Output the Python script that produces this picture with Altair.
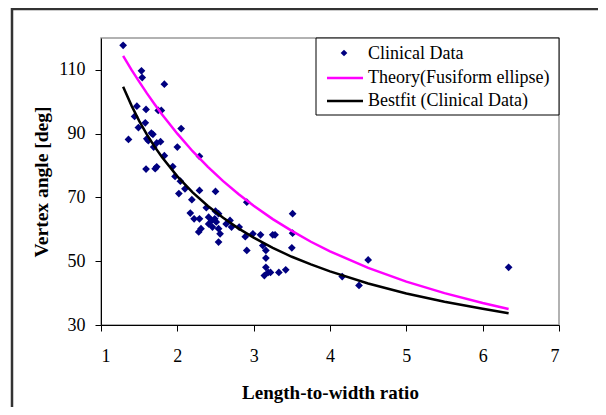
import altair as alt
import pandas as pd

# Clinical data (length-to-width ratio, vertex angle in deg)
clin_x = [1.29, 1.53, 1.54, 1.83, 1.47, 1.59, 1.75, 1.79, 1.44, 1.58, 1.49, 1.66, 1.68, 1.36,
          1.60, 1.62, 1.78, 1.73, 1.69, 2.00, 2.05, 1.83, 2.29, 1.59, 1.71, 1.73, 1.94, 1.97,
          2.04, 2.02, 2.10, 2.29, 2.50, 2.19, 2.91, 2.38, 2.17, 2.50, 2.54, 3.51, 2.22, 2.29,
          2.41, 2.45, 2.49, 2.51, 2.64, 2.69, 2.71, 2.41, 2.46, 2.54, 2.31, 2.28, 2.56, 2.81,
          2.89, 2.99, 3.09, 3.25, 3.28, 3.51, 2.54, 2.91, 3.50, 3.12, 3.16, 3.16, 4.16, 4.50,
          4.38, 6.34, 3.16, 3.19, 3.14, 3.22, 3.33, 3.42]
clin_y = [117.7, 109.7, 107.6, 105.5, 98.6, 97.6, 97.3, 97.3, 95.4, 93.4, 91.9, 90.2, 89.8, 88.2,
          88.4, 87.8, 87.5, 87.1, 85.8, 85.8, 91.6, 83.1, 82.9, 78.9, 79.0, 79.6, 79.7, 76.6,
          75.1, 71.2, 72.7, 72.2, 71.9, 69.3, 68.5, 66.8, 65.1, 65.7, 64.9, 64.9, 63.3, 63.3,
          63.8, 62.8, 63.3, 62.3, 61.7, 62.8, 60.7, 61.7, 60.7, 60.2, 60.2, 59.2, 58.6, 60.7,
          57.7, 58.6, 58.3, 58.3, 58.3, 58.8, 56.0, 53.4, 54.2, 54.9, 53.4, 51.0, 45.2, 50.4,
          42.4, 48.1, 48.1, 46.5, 45.5, 46.5, 46.5, 47.3]

# Curves
curve_x = [1.29, 1.4, 1.5, 1.6, 1.7, 1.8, 2.0, 2.2, 2.4, 2.6, 2.8, 3.0, 3.25, 3.5, 3.75, 4.0,
           4.5, 5.0, 5.5, 6.0, 6.34]
theory_y = [114.4, 110.0, 106.3, 102.7, 99.3, 96.0, 90.0, 84.5, 79.6, 75.1, 71.1, 67.4, 63.2,
            59.5, 56.1, 53.1, 47.9, 43.6, 40.0, 36.9, 35.0]
bestfit_y = [104.7, 98.8, 94.0, 89.8, 86.0, 82.6, 76.6, 71.6, 67.3, 63.6, 60.3, 57.4, 54.2,
             51.4, 49.0, 46.8, 43.0, 39.9, 37.3, 35.1, 33.7]

x_ticks = [1, 2, 3, 4, 5, 6, 7]
y_ticks = [30, 50, 70, 90, 110]
legend_labels = ["Clinical Data", "Theory(Fusiform ellipse)", "Bestfit (Clinical Data)"]

FONT = "Liberation Serif"

clin = pd.DataFrame({"x": clin_x, "y": clin_y})
curves = pd.DataFrame({"x": curve_x, "theory": theory_y, "bestfit": bestfit_y})
one = pd.DataFrame({"a": [0]})

xs = alt.Scale(domain=[1, 7], nice=False, zero=False)
ys = alt.Scale(domain=[30, 120], nice=False, zero=False)

x_axis = alt.Axis(values=x_ticks, format="d", grid=False, title="Length-to-width ratio",
                  labelFont=FONT, labelFontSize=18, labelColor="black", labelPadding=16,
                  tickSize=6, tickColor="black", domainColor="black",
                  titleFont=FONT, titleFontSize=19, titleFontWeight="bold", titleColor="black",
                  titleBaseline="middle", titleY=67, titleX=229)
y_axis = alt.Axis(values=y_ticks, format="d", grid=False, title="Vertex angle [deg]",
                  labelFont=FONT, labelFontSize=18, labelColor="black", labelPadding=10,
                  tickSize=6, tickColor="black", domainColor="black",
                  titleFont=FONT, titleFontSize=19.5, titleFontWeight="bold", titleColor="black",
                  titleAngle=270, titleBaseline="middle", titleX=-60, titleY=143.5)

border_top = alt.Chart(one).mark_rule(color="#333333", strokeWidth=2.5).encode(
    x=alt.value(-89), x2=alt.value(620), y=alt.value(-29))
border_left = alt.Chart(one).mark_rule(color="#333333", strokeWidth=2.5).encode(
    x=alt.value(-89), y=alt.value(-30), y2=alt.value(600))

pts = alt.Chart(clin).mark_point(shape="diamond", filled=True, color="#000080",
                                 size=60, opacity=1).encode(
    x=alt.X("x:Q", scale=xs, axis=x_axis),
    y=alt.Y("y:Q", scale=ys, axis=y_axis))

theory = alt.Chart(curves).mark_line(color="#FF00FF", strokeWidth=2.5).encode(
    x=alt.X("x:Q", scale=xs), y=alt.Y("theory:Q", scale=ys))
bestfit = alt.Chart(curves).mark_line(color="black", strokeWidth=2.5).encode(
    x=alt.X("x:Q", scale=xs), y=alt.Y("bestfit:Q", scale=ys))

# Manual legend
leg_box = alt.Chart(one).mark_rect(fill="white", stroke="black", strokeWidth=1).encode(
    x=alt.value(215), x2=alt.value(458), y=alt.value(0), y2=alt.value(77))
leg_pt = alt.Chart(one).mark_point(shape="diamond", filled=True, color="#000080",
                                   size=45, opacity=1).encode(
    x=alt.value(243), y=alt.value(15))
leg_l1 = alt.Chart(one).mark_rule(color="#FF00FF", strokeWidth=2.5).encode(
    x=alt.value(226), x2=alt.value(262), y=alt.value(40))
leg_l2 = alt.Chart(one).mark_rule(color="black", strokeWidth=2.5).encode(
    x=alt.value(226), x2=alt.value(262), y=alt.value(63))
leg_texts = [
    alt.Chart(one).mark_text(align="left", baseline="middle", font=FONT, fontSize=18,
                             color="black").encode(
        x=alt.value(267), y=alt.value(yy), text=alt.value(lbl))
    for lbl, yy in zip(legend_labels, [16, 40, 63])
]

chart = alt.layer(border_top, border_left, pts, theory, bestfit, leg_box, leg_pt, leg_l1,
                  leg_l2, *leg_texts
).properties(
    width=458, height=287,
    autosize=alt.AutoSizeParams(type="none"),
    padding={"left": 93, "top": 30, "right": 39, "bottom": 82},
    background="white",
).configure_view(stroke="#999999", strokeWidth=1.5)

chart.save("out.html", embed_options={"renderer": "svg", "actions": False})
